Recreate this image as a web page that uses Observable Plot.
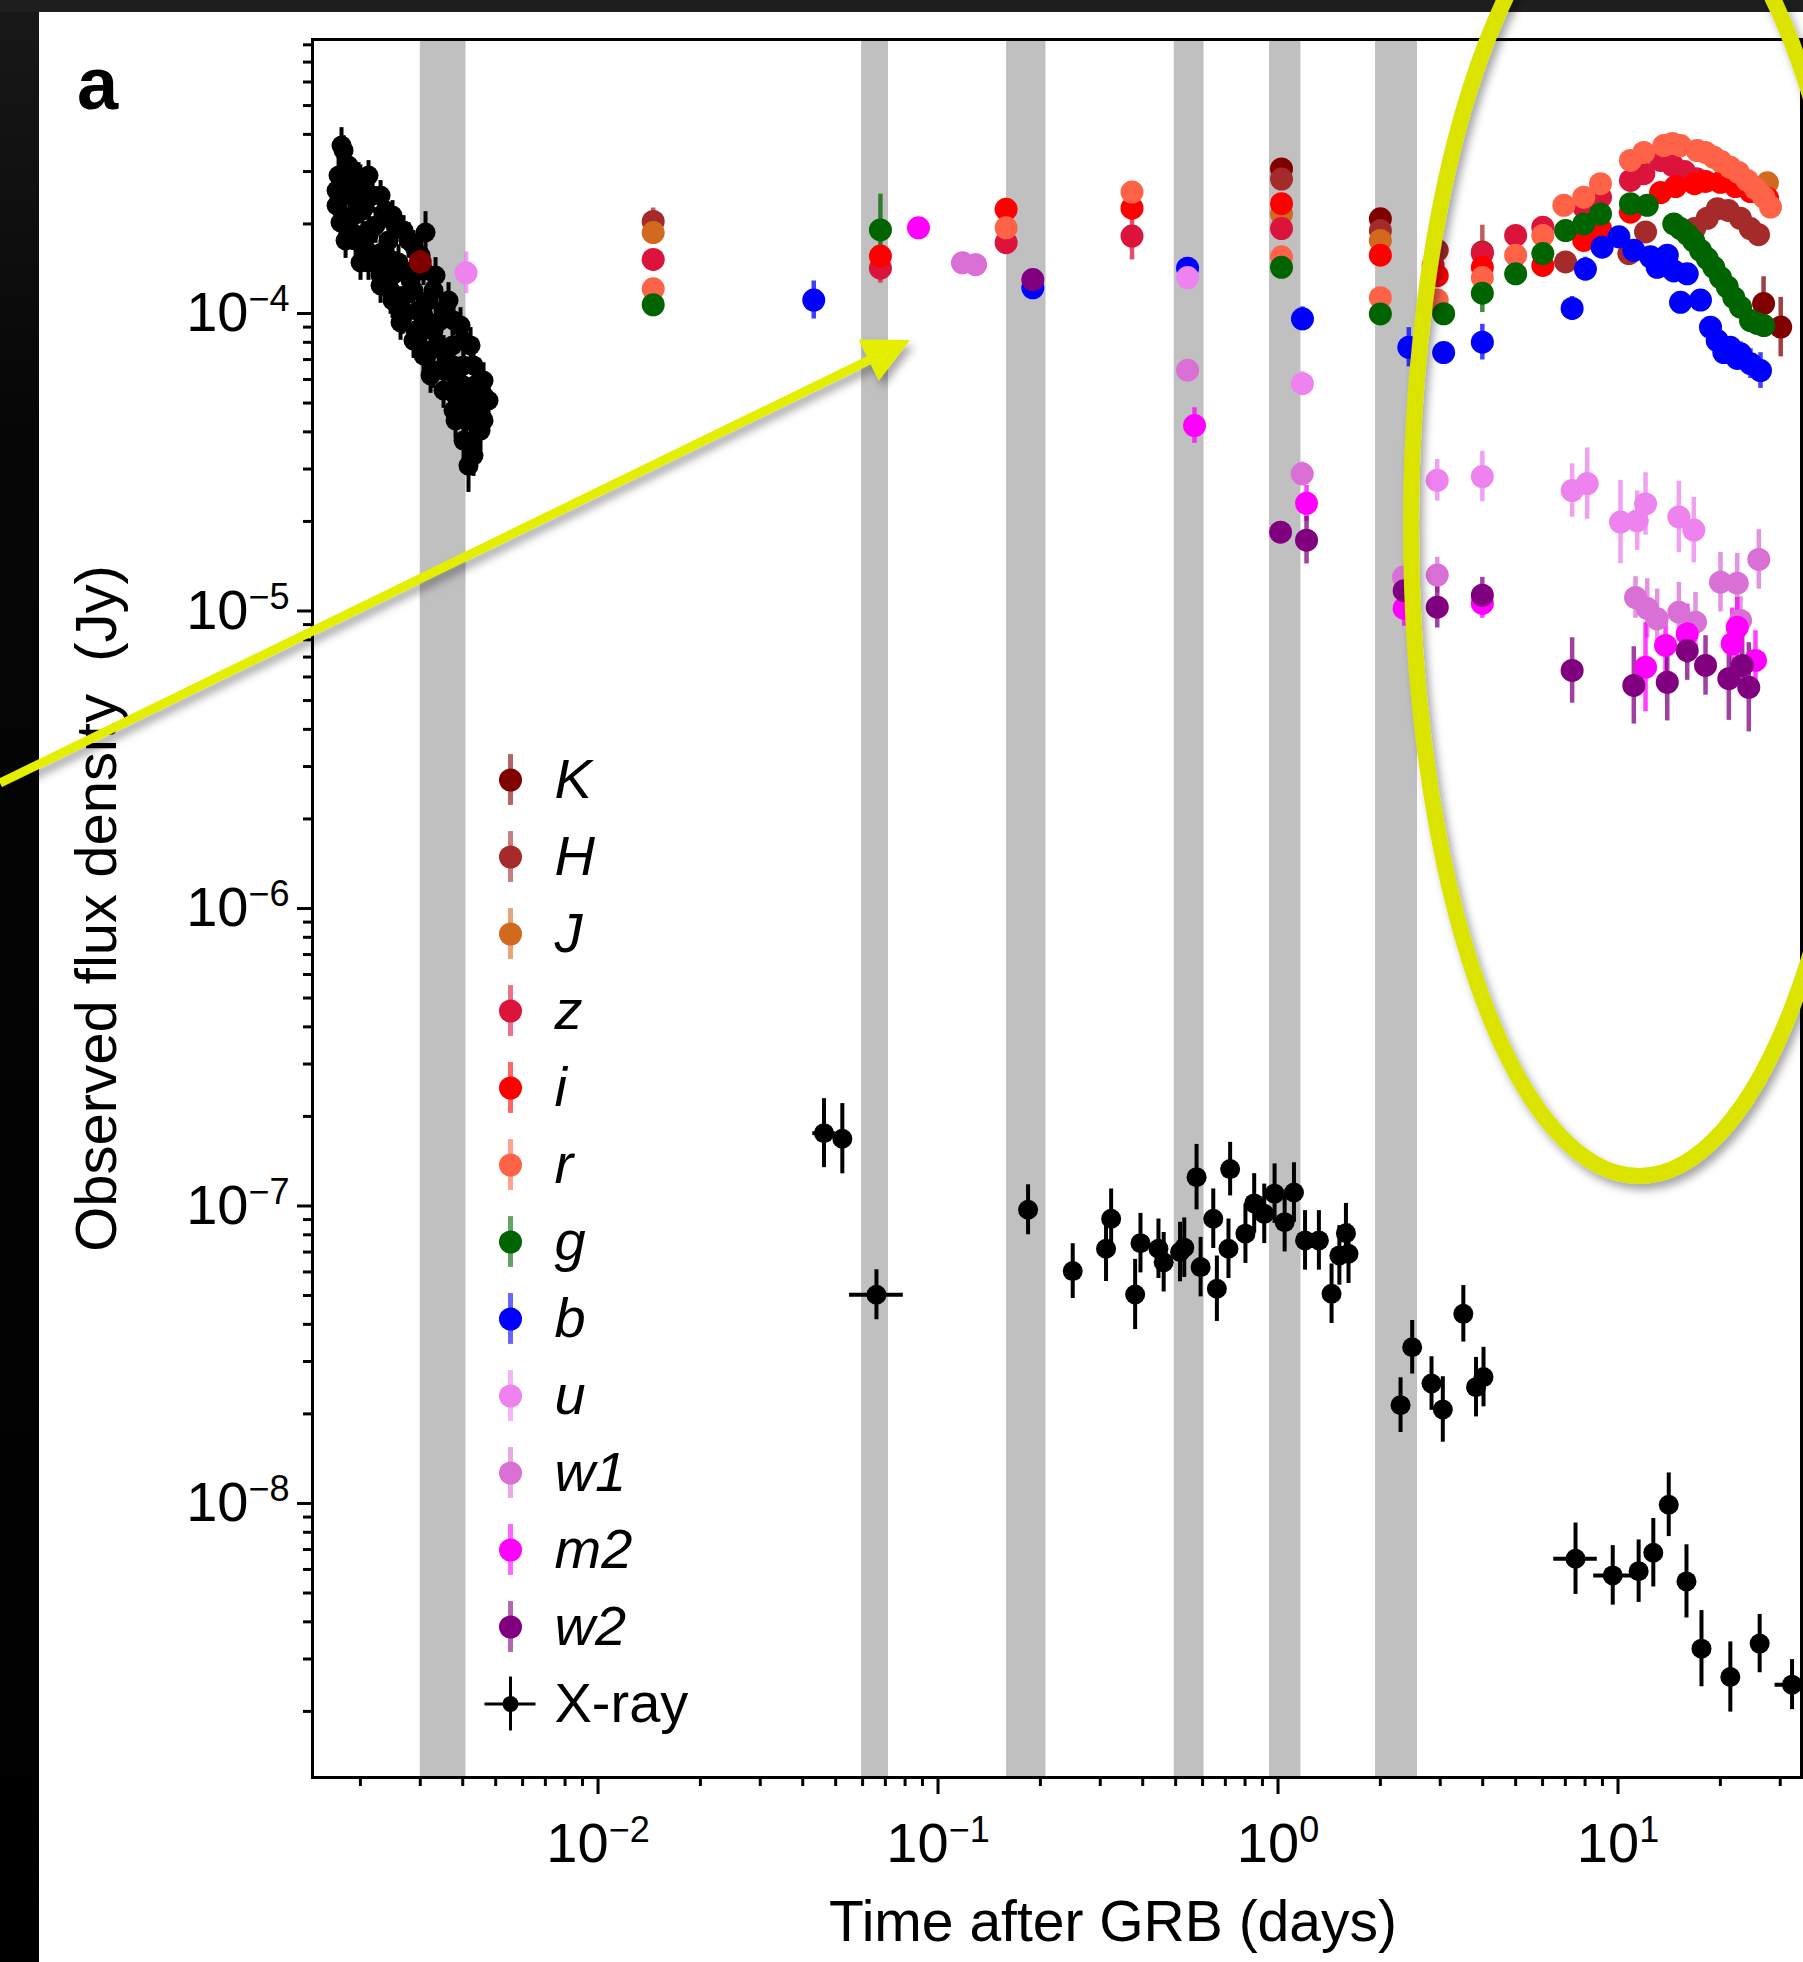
<!DOCTYPE html>
<html>
<head>
<meta charset="utf-8">
<script src="https://cdn.jsdelivr.net/npm/d3@7"></script>
<script src="https://cdn.jsdelivr.net/npm/@observablehq/plot@0.6"></script>
<style>
  html, body { margin: 0; padding: 0; }
  body { width: 1803px; height: 1962px; position: relative; overflow: hidden; background: #1e1e1e;
         font-family: "Liberation Sans", Arial, Helvetica, sans-serif; }
  #leftband { position: absolute; left: 0; top: 12px; width: 39px; height: 1950px;
              background: linear-gradient(to bottom, #181818 0px, #060606 420px, #000 100%); }
  #chart { position: absolute; left: 39px; top: 12px; width: 1764px; height: 1950px; background: #fff; }
  #legend { position: absolute; left: 480px; top: 740.5px; }
  #overlay { position: absolute; left: 0; top: 0; pointer-events: none; }
</style>
</head>
<body>
<div id="leftband"></div>
<div id="chart"></div>
<div id="legend"></div>
<svg id="overlay" width="1803" height="1962"></svg>
<script>
// ---------------- DATA ----------------
// time after GRB (days), observed flux density (Jy), error half-size (dex)
const bandNames  = ["K", "H", "J", "z", "i", "r", "g", "b", "u", "w1", "m2", "w2"];
const bandColors = ["#800000", "#a52a2a", "#d2691e", "#dc143c", "#ff0000", "#ff6347",
                    "#006400", "#0000ff", "#ee82ee", "#da70d6", "#ff00ff", "#800080"];

const bandK = [[3.0e-3,1.49e-4,0.04],[1.024,3.06e-4,0.03],[2.0,2.08e-4,0.03],[26.8,1.08e-4,0.09],[30.1,9.0e-5,0.1]];
const bandH = [[0.01453,2.04e-4,0.045],[1.024,2.83e-4,0.03],[2.0,1.90e-4,0.03],[2.94,1.63e-4,0.03],[3.99,1.61e-4,0.09],
  [7.01,1.49e-4,0.03],[10.76,1.59e-4,0.03],[12.05,1.88e-4,0.03],[16.8,1.93e-4,0.03],[18.3,2.09e-4,0.03],
  [19.6,2.25e-4,0.03],[21.1,2.22e-4,0.03],[22.9,2.09e-4,0.03],[24.5,1.93e-4,0.03],[25.9,1.84e-4,0.03]];
const bandJ = [[0.01453,1.87e-4,0.03],[1.024,2.16e-4,0.03],[2.0,1.76e-4,0.03],[27.5,2.75e-4,0.03]];
const bandZ = [[0.01453,1.52e-4,0.03],[0.0677,1.42e-4,0.05],[0.1586,1.73e-4,0.03],[0.372,1.82e-4,0.08],
  [1.024,1.93e-4,0.03],[2.86,1.45e-4,0.03],[3.99,1.59e-4,0.03],[5.0,1.83e-4,0.03],[6.01,1.95e-4,0.03],
  [7.93,2.28e-4,0.03],[8.88,2.46e-4,0.03],[10.88,2.80e-4,0.03],[11.91,2.95e-4,0.03],[13.34,3.27e-4,0.03],
  [14.46,3.15e-4,0.03],[15.69,3.0e-4,0.03],[17.02,2.84e-4,0.03]];
const bandI = [[0.0677,1.56e-4,0.03],[0.1586,2.24e-4,0.03],[0.372,2.26e-4,0.03],[1.024,2.34e-4,0.03],
  [2.0,1.57e-4,0.03],[2.94,1.34e-4,0.03],[3.99,1.43e-4,0.03],[6.01,1.45e-4,0.03],[7.93,1.76e-4,0.03],
  [8.88,1.93e-4,0.03],[10.88,2.19e-4,0.03],[13.34,2.55e-4,0.03],[14.76,2.67e-4,0.03],[16.79,2.73e-4,0.03],
  [18.09,2.78e-4,0.03],[20.02,2.76e-4,0.03],[22.16,2.67e-4,0.03],[24.53,2.57e-4,0.03],[27.53,2.44e-4,0.03]];
const bandR = [[0.01453,1.21e-4,0.03],[0.1586,1.94e-4,0.03],[0.372,2.56e-4,0.03],[1.024,1.55e-4,0.03],
  [2.0,1.13e-4,0.03],[2.94,1.11e-4,0.03],[3.99,1.32e-4,0.03],[5.0,1.57e-4,0.03],[6.01,1.83e-4,0.03],
  [6.93,2.31e-4,0.03],[7.93,2.46e-4,0.03],[8.88,2.73e-4,0.03],[10.88,3.27e-4,0.03],[11.91,3.48e-4,0.03],
  [13.64,3.67e-4,0.03],[14.46,3.73e-4,0.03],[15.27,3.67e-4,0.03],[17.10,3.53e-4,0.03],[18.09,3.48e-4,0.03],
  [19.13,3.35e-4,0.03],[20.1,3.24e-4,0.03],[21.39,3.10e-4,0.03],[22.6,2.98e-4,0.03],[23.99,2.80e-4,0.03],
  [25.37,2.63e-4,0.03],[26.84,2.46e-4,0.03],[28.09,2.28e-4,0.03]];
const bandG = [[0.01453,1.07e-4,0.03],[0.0677,1.91e-4,0.12],[1.024,1.43e-4,0.03],[2.0,9.97e-5,0.03],
  [3.07,9.98e-5,0.03],[3.99,1.17e-4,0.065],[5.0,1.36e-4,0.03],[6.01,1.59e-4,0.03],[7.01,1.90e-4,0.03],
  [7.93,2.0e-4,0.03],[8.88,2.16e-4,0.03],[10.88,2.34e-4,0.03],[12.19,2.31e-4,0.03],[14.59,2.0e-4,0.03],
  [15.27,1.93e-4,0.03],[15.98,1.85e-4,0.03],[16.71,1.75e-4,0.03],[17.48,1.63e-4,0.03],[18.30,1.53e-4,0.03],
  [19.13,1.43e-4,0.03],[20.02,1.32e-4,0.03],[20.95,1.23e-4,0.03],[21.91,1.13e-4,0.03],[22.93,1.05e-4,0.03],
  [24.53,9.47e-5,0.03],[25.66,9.26e-5,0.03],[26.84,9.11e-5,0.03]];
const bandB = [[0.0431,1.11e-4,0.064],[0.19,1.22e-4,0.03],[0.542,1.42e-4,0.03],[1.18,9.6e-5,0.04],
  [2.425,7.7e-5,0.066],[3.07,7.39e-5,0.03],[3.99,8.01e-5,0.06],[7.33,1.04e-4,0.04],[8.02,1.41e-4,0.04],
  [8.98,1.67e-4,0.03],[10.06,1.81e-4,0.03],[11.13,1.63e-4,0.03],[12.46,1.55e-4,0.03],[13.04,1.43e-4,0.03],
  [13.96,1.57e-4,0.03],[14.59,1.39e-4,0.03],[15.27,1.09e-4,0.03],[15.98,1.36e-4,0.03],[17.48,1.11e-4,0.03],
  [18.71,8.99e-5,0.03],[19.58,8.11e-5,0.03],[20.48,7.39e-5,0.03],[21.39,7.7e-5,0.03],[22.42,7.06e-5,0.03],
  [22.93,7.32e-5,0.04],[24.53,6.78e-5,0.05],[26.25,6.43e-5,0.06]];
const bandU = [[4.09e-3,1.37e-4,0.07],[0.542,1.32e-4,0.03],[1.18,5.81e-5,0.04],[2.94,2.75e-5,0.07],
  [3.99,2.83e-5,0.085],[7.33,2.54e-5,0.09],[8.12,2.68e-5,0.12],[10.17,1.99e-5,0.14],[11.39,2.01e-5,0.1],
  [12.05,2.29e-5,0.105],[15.10,2.07e-5,0.12],[16.71,1.87e-5,0.11]];
const bandW1 = [[0.118,1.48e-4,0.03],[0.129,1.46e-4,0.03],[0.542,6.45e-5,0.03],[1.178,2.89e-5,0.04],
  [2.34,1.30e-5,0.03],[2.94,1.32e-5,0.06],[11.26,1.11e-5,0.07],[12.19,1.02e-5,0.1],[13.04,9.41e-6,0.1],
  [15.10,9.91e-6,0.1],[16.90,9.17e-6,0.1],[20.02,1.25e-5,0.1],[22.42,1.24e-5,0.1],[22.93,9.29e-6,0.08],
  [25.95,1.49e-5,0.1]];
const bandM2 = [[0.0876,1.94e-4,0.03],[0.568,4.2e-5,0.06],[1.213,2.30e-5,0.06],[2.35,1.02e-5,0.06],
  [3.99,1.06e-5,0.05],[12.05,6.47e-6,0.15],[13.80,7.66e-6,0.1],[15.98,8.38e-6,0.1],[21.67,7.76e-6,0.12],
  [22.42,8.82e-6,0.1],[25.37,6.82e-6,0.1]];
const bandW2 = [[0.19,1.30e-4,0.03],[1.017,1.84e-5,0.03],[1.213,1.73e-5,0.08],[2.35,1.17e-5,0.03],
  [2.94,1.03e-5,0.07],[3.99,1.13e-5,0.06],[7.33,6.31e-6,0.11],[11.13,5.62e-6,0.13],[13.96,5.76e-6,0.13],
  [15.98,7.36e-6,0.1],[18.09,6.56e-6,0.1],[21.18,5.92e-6,0.14],[23.19,6.56e-6,0.1],[24.25,5.54e-6,0.15]];

// X-ray: early dense light curve [t, F, yErr(dex)]
const xrayEarly = [
  [1.760e-3,3.67e-4,0.06],[1.725e-3,2.91e-4,0.06],[1.702e-3,2.307e-4,0.06],[1.748e-3,2.023e-4,0.06],
  [1.846e-3,3.145e-4,0.06],[1.871e-3,2.493e-4,0.06],[1.896e-3,1.872e-4,0.06],[1.975e-3,2.80e-4,0.06],
  [2.029e-3,2.22e-4,0.06],[2.071e-3,1.654e-4,0.06],[2.172e-3,2.493e-4,0.06],[2.216e-3,1.976e-4,0.06],
  [2.262e-3,1.45e-4,0.06],[2.371e-3,2.22e-4,0.06],[2.420e-3,1.759e-4,0.06],[2.453e-3,1.195e-4,0.08],
  [2.537e-3,1.976e-4,0.06],[2.589e-3,1.484e-4,0.06],[2.661e-3,1.023e-4,0.08],[2.771e-3,1.759e-4,0.06],
  [2.809e-3,1.291e-4,0.06],[2.906e-3,8.77e-5,0.07],[3.006e-3,1.567e-4,0.06],[3.109e-3,1.872e-4,0.07],
  [3.173e-3,1.106e-4,0.06],[3.217e-3,7.51e-5,0.07],[3.327e-3,1.342e-4,0.06],[3.442e-3,9.47e-5,0.06],
  [3.512e-3,6.43e-5,0.07],[3.633e-3,1.106e-4,0.06],[3.733e-3,7.81e-5,0.06],[3.809e-3,5.30e-5,0.07],
  [3.940e-3,9.11e-5,0.06],[4.021e-3,6.69e-5,0.06],[4.103e-3,4.37e-5,0.07],[4.217e-3,7.81e-5,0.06],
  [4.333e-3,5.73e-5,0.06],[4.451e-3,4.91e-5,0.06],[4.605e-3,5.95e-5,0.06],[4.512e-3,4.04e-5,0.07],
  [4.217e-3,3.60e-5,0.08],[4.159e-3,3.08e-5,0.09],[2.625e-3,9.33e-5,0.06],[2.293e-3,1.242e-4,0.06],
  [2.002e-3,1.484e-4,0.06],[1.809e-3,1.759e-4,0.06],[3.217e-3,6.19e-5,0.06],[3.809e-3,4.37e-5,0.06],
  [1.80e-3,2.6e-4,0.06],[1.93e-3,2.15e-4,0.06],[2.12e-3,1.85e-4,0.06],[2.30e-3,1.60e-4,0.06],
  [2.50e-3,1.35e-4,0.06],[2.70e-3,1.15e-4,0.06],[2.95e-3,1.02e-4,0.06],[3.10e-3,8.8e-5,0.06],
  [3.40e-3,7.8e-5,0.06],[3.60e-3,6.8e-5,0.06],[3.85e-3,6.0e-5,0.06],[4.05e-3,5.2e-5,0.06],
  [4.30e-3,4.6e-5,0.06],[2.0e-3,2.75e-4,0.06],
  [1.702e-3,2.591e-4,0.05],[1.784e-3,3.53e-4,0.05],[1.784e-3,2.135e-4,0.05],[1.936e-3,2.398e-4,0.05],
  [1.936e-3,1.759e-4,0.05],[2.113e-3,2.91e-4,0.05],[2.113e-3,1.901e-4,0.05],[2.113e-3,1.484e-4,0.06],
  [2.293e-3,2.493e-4,0.05],[2.293e-3,1.567e-4,0.05],[2.293e-3,1.342e-4,0.06],[2.486e-3,2.135e-4,0.05],
  [2.486e-3,1.507e-4,0.05],[2.486e-3,1.106e-4,0.06],[2.679e-3,1.901e-4,0.05],[2.679e-3,1.394e-4,0.05],
  [2.679e-3,9.85e-5,0.06],[2.866e-3,1.693e-4,0.05],[2.866e-3,1.195e-4,0.05],[2.866e-3,8.11e-5,0.06],
  [3.067e-3,1.394e-4,0.05],[3.067e-3,9.85e-5,0.05],[3.067e-3,7.23e-5,0.06],[3.282e-3,1.195e-4,0.05],
  [3.282e-3,8.77e-5,0.05],[3.282e-3,6.43e-5,0.06],[3.512e-3,1.023e-4,0.05],[3.512e-3,7.51e-5,0.05],
  [3.512e-3,5.51e-5,0.06],[3.758e-3,9.47e-5,0.05],[3.758e-3,6.69e-5,0.05],[3.758e-3,4.72e-5,0.06],
  [4.021e-3,8.11e-5,0.05],[4.021e-3,5.73e-5,0.05],[4.021e-3,3.74e-5,0.07],[4.302e-3,6.69e-5,0.05],
  [4.302e-3,5.10e-5,0.05],[4.302e-3,3.33e-5,0.07],[4.605e-3,5.30e-5,0.05],[4.605e-3,4.37e-5,0.06],
  [4.763e-3,5.10e-5,0.06]];
// X-ray: later points [t, F, yErr(dex), tErr(dex)]
const xrayLate = [
  [0.0462,1.757e-7,0.116,0.033],[0.0523,1.683e-7,0.118,0],[0.0659,5.03e-8,0.084,0.079],
  [0.184,9.71e-8,0.084,0],[0.249,6.04e-8,0.092,0],[0.312,7.18e-8,0.11,0],[0.323,9.06e-8,0.1,0],
  [0.380,5.04e-8,0.118,0],[0.394,7.5e-8,0.1,0],[0.445,7.18e-8,0.1,0],[0.461,6.47e-8,0.1,0],
  [0.515,7.0e-8,0.1,0],[0.530,7.24e-8,0.1,0],[0.576,1.25e-7,0.11,0],[0.592,6.23e-8,0.1,0],
  [0.645,9.06e-8,0.1,0],[0.661,5.27e-8,0.11,0],[0.715,7.18e-8,0.1,0],[0.723,1.33e-7,0.09,0],
  [0.802,8.07e-8,0.1,0],[0.851,1.02e-7,0.1,0],[0.911,9.41e-8,0.1,0],[0.977,1.10e-7,0.1,0],
  [1.046,8.82e-8,0.1,0],[1.114,1.11e-7,0.1,0],[1.201,7.66e-8,0.1,0],[1.319,7.66e-8,0.1,0],
  [1.437,5.07e-8,0.1,0],[1.515,6.82e-8,0.1,0],[1.584,8.10e-8,0.1,0],[1.612,6.91e-8,0.1,0],
  [2.293,2.14e-8,0.092,0],[2.481,3.35e-8,0.09,0],[2.828,2.53e-8,0.09,0],[3.053,2.07e-8,0.11,0],
  [3.508,4.34e-8,0.095,0],[3.823,2.46e-8,0.1,0],[4.022,2.66e-8,0.1,0],
  [7.50,6.52e-9,0.12,0.064],[9.65,5.73e-9,0.1,0.056],[11.5,5.92e-9,0.105,0],[12.7,6.83e-9,0.115,0],
  [14.1,9.90e-9,0.107,0],[15.9,5.47e-9,0.123,0],[17.6,3.25e-9,0.128,0],[21.4,2.61e-9,0.118,0],
  [26.1,3.38e-9,0.098,0],[32.5,2.46e-9,0.084,0.05]];

// grey shaded intervals (days)
const shadeStart = [3.0e-3, 0.0596, 0.159, 0.495, 0.944, 1.936];
const shadeEnd   = [4.09e-3, 0.0715, 0.2078, 0.606, 1.168, 2.572];

// axes
const xDomain = [1.446e-3, 34.65];
const yDomain = [1.199e-9, 8.337e-4];
const xMajorTicks = [1e-2, 1e-1, 1, 10];
const yMajorTicks = [1e-8, 1e-7, 1e-6, 1e-5, 1e-4];
const xTitle = "Time after GRB (days)";
const yTitle = "Observed flux density\u00a0 (Jy)";
const panelLabel = "a";

// annotation (yellow) in data coordinates [days, Jy]
const arrowFrom = [1.748e-4, 2.63e-6];
const arrowTo = [0.083, 8.11e-5];
const ellipseCenter = [11.57, 1.931e-5];
const ellipseLeftT = 2.47;
const ellipseBottomF = 1.257e-7;

// ---------------- BUILD ----------------
const FONT = '"Liberation Sans", Arial, Helvetica, sans-serif';
const bandSeries = [bandK, bandH, bandJ, bandZ, bandI, bandR, bandG, bandB, bandU, bandW1, bandM2, bandW2];
const optical = bandSeries.flatMap((arr, k) => arr.map(([t, f, e]) => ({
  band: bandNames[k], color: bandColors[k], t, f, lo: f / 10 ** e, hi: f * 10 ** e })));
const xray = [
  ...xrayEarly.map(([t, f, e]) => ({t, f, lo: f / 10 ** e, hi: f * 10 ** e, tlo: t / 10 ** 0.012, thi: t * 10 ** 0.012})),
  ...xrayLate.map(([t, f, e, te]) => ({t, f, lo: f / 10 ** e, hi: f * 10 ** e, tlo: t / 10 ** te, thi: t * 10 ** te}))
];
const shades = shadeStart.map((s, k) => ({start: s, end: shadeEnd[k]}));

function minorTicks(domain) {
  const out = [];
  const k0 = Math.floor(Math.log10(domain[0])), k1 = Math.ceil(Math.log10(domain[1]));
  for (let k = k0; k <= k1; k++) for (let m = 2; m <= 9; m++) {
    const v = m * 10 ** k;
    if (v >= domain[0] && v <= domain[1]) out.push(v);
  }
  return out;
}
const fmtPow = d => `10^${Math.round(Math.log10(d))}`;

const plot = Plot.plot({
  width: 1764, height: 1950,
  marginLeft: 273, marginRight: 2, marginTop: 27, marginBottom: 185,
  x: {type: "log", domain: xDomain},
  y: {type: "log", domain: yDomain},
  color: {type: "identity"},
  style: {background: "white", fontFamily: FONT, fontSize: "56px", color: "black"},
  marks: [
    Plot.rect(shades, {x1: "start", x2: "end", fill: "#c0c0c0"}),
    Plot.ruleX(xray, {x: "t", y1: "lo", y2: "hi", stroke: "black", strokeWidth: 4}),
    Plot.ruleY(xray.filter(d => d.thi / d.tlo > 1.06), {y: "f", x1: "tlo", x2: "thi", stroke: "black", strokeWidth: 4}),
    Plot.dot(xray, {x: "t", y: "f", r: 10, fill: "black"}),
    Plot.ruleX(optical, {x: "t", y1: "lo", y2: "hi", stroke: "color", strokeWidth: 4.5, strokeOpacity: 0.75}),
    Plot.dot(optical, {x: "t", y: "f", r: 11.5, fill: "color"}),
    Plot.frame({stroke: "black", strokeWidth: 3}),
    Plot.axisX({ticks: xMajorTicks, tickSize: 17, tickPadding: 28, tickFormat: fmtPow, strokeWidth: 3, fontSize: 56, label: null, anchor: "bottom"}),
    Plot.axisX({ticks: minorTicks(xDomain), tickSize: 9, tickFormat: () => "", strokeWidth: 3, label: null, anchor: "bottom"}),
    Plot.axisY({ticks: yMajorTicks, tickSize: 15, tickPadding: 8, tickFormat: fmtPow, strokeWidth: 3, fontSize: 56, label: null, anchor: "left"}),
    Plot.axisY({ticks: minorTicks(yDomain), tickSize: 9, tickFormat: () => "", strokeWidth: 3, label: null, anchor: "left"}),
    Plot.text([yTitle], {text: d => d, frameAnchor: "left", textAnchor: "middle", lineAnchor: "middle", rotate: -90, dx: -215, fontSize: 58, fill: "black"}),
    Plot.text([xTitle], {text: d => d, frameAnchor: "bottom", textAnchor: "middle", dx: 56, dy: 163, fontSize: 57, fill: "black"})
  ]
});

// superscript exponents on the tick labels
const svgNS = "http://www.w3.org/2000/svg";
plot.querySelectorAll("text").forEach(el => {
  const m = /^10\^(-?\d+)$/.exec(el.textContent.trim());
  if (!m) return;
  el.textContent = "";
  const base = document.createElementNS(svgNS, "tspan");
  base.textContent = "10";
  const sup = document.createElementNS(svgNS, "tspan");
  sup.setAttribute("dy", "-20");
  sup.setAttribute("font-size", "36");
  sup.textContent = m[1].replace("-", "\u2212");
  el.append(base, sup);
});
document.getElementById("chart").append(plot);

// ---------------- LEGEND ----------------
const legendItems = [...bandNames, "X-ray"].map((name, k) => ({name, k, color: k < bandColors.length ? bandColors[k] : "#000000"}));
const bandItems = legendItems.filter(d => d.name !== "X-ray");
const xrayItem = legendItems.filter(d => d.name === "X-ray");
const legend = Plot.plot({
  width: 400, height: 1001, margin: 0,
  x: {domain: [0, 1], range: [30, 330], axis: null},
  y: {domain: [-0.5, 12.5], range: [0, 1001], axis: null},
  color: {type: "identity"},
  style: {background: "transparent", overflow: "visible", fontFamily: FONT},
  marks: [
    Plot.ruleX(bandItems, {x: 0, y1: d => d.k - 0.33, y2: d => d.k + 0.33, stroke: "color", strokeOpacity: 0.6, strokeWidth: 5}),
    Plot.dot(bandItems, {x: 0, y: "k", r: 11.5, fill: "color"}),
    Plot.ruleX(xrayItem, {x: 0, y1: d => d.k - 0.35, y2: d => d.k + 0.35, stroke: "black", strokeWidth: 3}),
    Plot.ruleY(xrayItem, {y: "k", x1: -0.085, x2: 0.085, stroke: "black", strokeWidth: 3}),
    Plot.dot(xrayItem, {x: 0, y: "k", r: 8, fill: "black"}),
    Plot.text(bandItems, {x: 0, y: "k", text: "name", dx: 44, textAnchor: "start", fontSize: 56, fontStyle: "italic", fill: "black"}),
    Plot.text(xrayItem, {x: 0, y: "k", text: "name", dx: 44, textAnchor: "start", fontSize: 56, fill: "black"})
  ]
});
document.getElementById("legend").append(legend);

// ---------------- ANNOTATIONS ----------------
const sx = plot.scale("x"), sy = plot.scale("y");
const OX = 39, OY = 12;
const P = ([t, f]) => [sx.apply(t) + OX, sy.apply(f) + OY];
const ov = d3.select("#overlay");
const defs = ov.append("defs");
const filt = defs.append("filter").attr("id", "shadow").attr("x", "-20%").attr("y", "-20%").attr("width", "140%").attr("height", "140%");
filt.append("feDropShadow").attr("dx", 4).attr("dy", 6).attr("stdDeviation", 4).attr("flood-color", "#000").attr("flood-opacity", 0.35);

// ellipse
const c = P(ellipseCenter);
const rx = c[0] - (sx.apply(ellipseLeftT) + OX);
const ry = (sy.apply(ellipseBottomF) + OY) - c[1];
ov.append("ellipse").attr("cx", c[0]).attr("cy", c[1]).attr("rx", rx).attr("ry", ry)
  .attr("fill", "none").attr("stroke", "#dbe400").attr("stroke-width", 16).attr("filter", "url(#shadow)");

// arrow
const p0 = P(arrowFrom), tip = P(arrowTo);
const dxA = tip[0] - p0[0], dyA = tip[1] - p0[1], L = Math.hypot(dxA, dyA);
const ux = dxA / L, uy = dyA / L, nx = -uy, ny = ux;
const headLen = 46, headHalf = 23;
const bx = tip[0] - ux * headLen, by = tip[1] - uy * headLen;
const g = ov.append("g").attr("filter", "url(#shadow)");
g.append("line").attr("x1", p0[0]).attr("y1", p0[1]).attr("x2", bx + ux * 4).attr("y2", by + uy * 4)
  .attr("stroke", "#e4ef00").attr("stroke-width", 9);
g.append("polygon").attr("points", [[tip[0], tip[1]], [bx + nx * headHalf, by + ny * headHalf], [bx - nx * headHalf, by - ny * headHalf]].map(p => p.join(",")).join(" "))
  .attr("fill", "#e4ef00");

// panel label
ov.append("text").attr("x", 77).attr("y", 109).attr("font-family", FONT).attr("font-weight", "bold")
  .attr("font-size", 74).attr("fill", "black").text(panelLabel);
</script>
</body>
</html>
